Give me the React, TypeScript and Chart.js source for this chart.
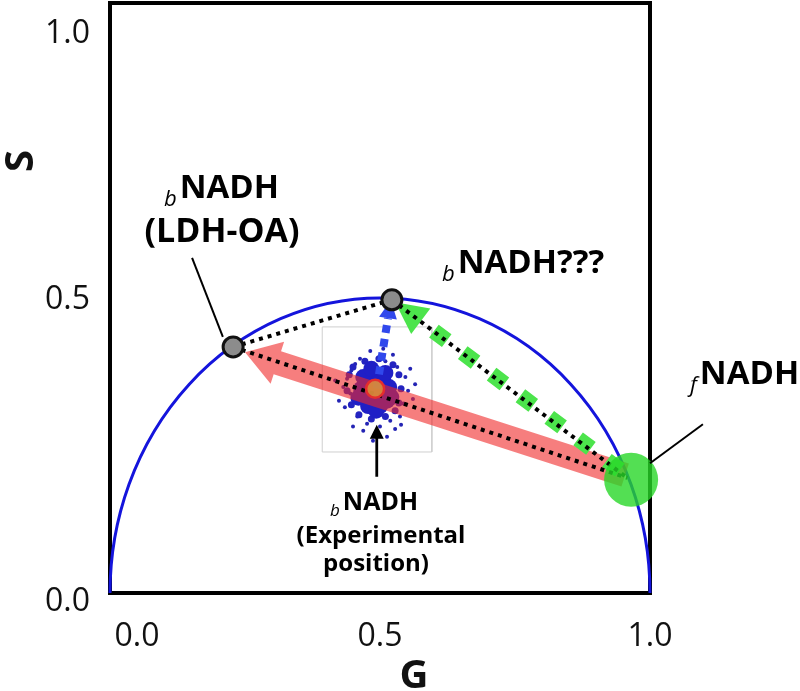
import React, { useEffect, useRef } from "react";
import { Chart, registerables } from "chart.js";

Chart.register(...registerables);

// ---- axis ticks ----
const X_TICKS = [0, 0.5, 1.0];
const Y_TICKS = [0, 0.5, 1.0];

// ---- universal semicircle (center G, S and radius) ----
const UC_CENTER = [0.5, 0];
const UC_RADIUS = 0.5;

// ---- key phasor positions [G, S] ----
const FREE_NADH = [0.965, 0.192];
const BOUND_LDH = [0.228, 0.417];
const BOUND_UNKNOWN = [0.522, 0.497];
const EXPERIMENTAL = [0.491, 0.346];

// ---- arrows (tail -> tip) ----
const RED_ARROW_G = [0.954, 0.25];
const RED_ARROW_S = [0.2, 0.408];
const GREEN_ARROW_G = [0.944, 0.528];
const GREEN_ARROW_S = [0.2085, 0.493];
const BLUE_ARROW_G = [0.494, 0.52];
const BLUE_ARROW_S = [0.347, 0.496];
const EXP_POINTER_G = [0.494, 0.494];
const EXP_POINTER_S = [0.197, 0.285];

// ---- black dotted connecting lines ----
const DOT1_G = [0.228, 0.958];
const DOT1_S = [0.417, 0.195];
const DOT2_G = [0.228, 0.522];
const DOT2_S = [0.417, 0.497];
const DOT3_G = [0.522, 0.958];
const DOT3_S = [0.497, 0.195];

// ---- label pointer lines ----
const LDH_POINTER_G = [0.152, 0.209];
const LDH_POINTER_S = [0.568, 0.434];
const FREE_POINTER_G = [1.0, 1.098];
const FREE_POINTER_S = [0.22, 0.286];

// ---- inset frame ----
const INSET_G = [0.393, 0.596, 0.596, 0.393, 0.393];
const INSET_S = [0.451, 0.451, 0.239, 0.239, 0.451];

// ---- experimental phasor cloud ----
const CLOUD_G = [0.439, 0.445, 0.435, 0.454, 0.463, 0.51, 0.532, 0.547, 0.552, 0.543, 0.537, 0.519, 0.5, 0.476, 0.458, 0.432, 0.556, 0.482, 0.491, 0.469, 0.528, 0.561, 0.424, 0.506, 0.447, 0.524, 0.565, 0.417, 0.513, 0.487, 0.539, 0.45];
const CLOUD_S = [0.363, 0.338, 0.315, 0.388, 0.397, 0.393, 0.383, 0.366, 0.343, 0.321, 0.299, 0.292, 0.282, 0.287, 0.299, 0.349, 0.38, 0.41, 0.27, 0.275, 0.278, 0.329, 0.326, 0.414, 0.377, 0.404, 0.354, 0.36, 0.265, 0.258, 0.285, 0.282];
const EDGE_G = [0.443, 0.45, 0.472, 0.498, 0.524, 0.535, 0.539, 0.535, 0.528, 0.51, 0.484, 0.461, 0.447, 0.439];
const EDGE_S = [0.37, 0.383, 0.393, 0.397, 0.387, 0.37, 0.346, 0.322, 0.309, 0.299, 0.295, 0.302, 0.319, 0.343];
const CORE_G = [0.491, 0.474, 0.506, 0.508, 0.474, 0.491, 0.487, 0.517, 0.465, 0.5, 0.478, 0.513, 0.469, 0.51, 0.493, 0.484, 0.521, 0.46];
const CORE_S = [0.346, 0.36, 0.361, 0.336, 0.334, 0.324, 0.371, 0.349, 0.346, 0.317, 0.317, 0.326, 0.366, 0.373, 0.309, 0.38, 0.332, 0.331];

const pts = (g: number[], s: number[]) => g.map((x, i) => ({ x, y: s[i] }));
const FONT = '"Open Sans", "DejaVu Sans", sans-serif';

function lineDs(g: number[], s: number[], color: string, width: number, dash: number[], order: number) {
  return {
    type: "line",
    data: pts(g, s),
    showLine: true,
    borderColor: color,
    borderWidth: width,
    borderDash: dash,
    borderCapStyle: "butt",
    pointRadius: 0,
    fill: false,
    tension: 0,
    clip: false,
    order,
  };
}

function arrowDs(g: number[], s: number[], arrow: any, order: number) {
  return {
    type: "scatter",
    data: pts(g, s),
    showLine: false,
    pointRadius: 0,
    pointHoverRadius: 0,
    clip: false,
    order,
    arrow,
  };
}

function pointDs(g: number[], s: number[], radius: number, fill: string, border: string, bw: number, order: number) {
  return {
    type: "scatter",
    data: pts(g, s),
    pointRadius: radius,
    pointHoverRadius: radius,
    backgroundColor: fill,
    borderColor: border,
    borderWidth: bw,
    clip: false,
    order,
  };
}

function subLabel(ctx: CanvasRenderingContext2D, sub: string, main: string, x: number, baseline: number, size: number, subSize: number, drop: number) {
  ctx.textAlign = "left";
  ctx.textBaseline = "alphabetic";
  ctx.font = `italic ${subSize}px ${FONT}`;
  const ws = ctx.measureText(sub).width;
  ctx.fillText(sub, x, baseline + drop);
  ctx.font = `bold ${size}px ${FONT}`;
  ctx.fillText(main, x + ws + 3, baseline);
}

const phasorPlugin = {
  id: "phasor",
  beforeDatasetsDraw(chart: any) {
    const { ctx, chartArea: a, scales } = chart;
    const x = scales.x, y = scales.y;
    ctx.save();
    ctx.strokeStyle = "#000";
    ctx.lineWidth = 4;
    ctx.strokeRect(a.left, a.top, a.right - a.left, a.bottom - a.top);
    const cx = x.getPixelForValue(UC_CENTER[0]);
    const cy = y.getPixelForValue(UC_CENTER[1]);
    const rx = x.getPixelForValue(UC_CENTER[0] + UC_RADIUS) - cx;
    const ry = cy - y.getPixelForValue(UC_CENTER[1] + UC_RADIUS);
    ctx.beginPath();
    ctx.ellipse(cx, cy, rx, ry, 0, Math.PI, 2 * Math.PI);
    ctx.strokeStyle = "#1414dc";
    ctx.lineWidth = 3;
    ctx.stroke();
    ctx.restore();
  },
  afterDatasetDraw(chart: any, args: any) {
    const ds: any = chart.data.datasets[args.index];
    const arrow = ds && ds.arrow;
    if (!arrow) return;
    const els = args.meta.data;
    const p0 = els[0], p1 = els[els.length - 1];
    const dx = p1.x - p0.x, dy = p1.y - p0.y;
    const len = Math.hypot(dx, dy);
    const ux = dx / len, uy = dy / len;
    const nx = -uy, ny = ux;
    const bx = p1.x - ux * arrow.headLen, by = p1.y - uy * arrow.headLen;
    const ctx = chart.ctx;
    ctx.save();
    ctx.fillStyle = arrow.color;
    if (arrow.dash) {
      ctx.strokeStyle = arrow.color;
      ctx.lineWidth = arrow.shaftHalf * 2;
      ctx.lineCap = "butt";
      ctx.setLineDash(arrow.dash);
      ctx.beginPath();
      ctx.moveTo(p0.x, p0.y);
      ctx.lineTo(bx, by);
      ctx.stroke();
      ctx.setLineDash([]);
      ctx.beginPath();
      ctx.moveTo(bx + nx * arrow.headHalf, by + ny * arrow.headHalf);
      ctx.lineTo(p1.x, p1.y);
      ctx.lineTo(bx - nx * arrow.headHalf, by - ny * arrow.headHalf);
      ctx.closePath();
      ctx.fill();
    } else {
      const w = arrow.shaftHalf, h = arrow.headHalf;
      ctx.beginPath();
      ctx.moveTo(p0.x + nx * w, p0.y + ny * w);
      ctx.lineTo(bx + nx * w, by + ny * w);
      ctx.lineTo(bx + nx * h, by + ny * h);
      ctx.lineTo(p1.x, p1.y);
      ctx.lineTo(bx - nx * h, by - ny * h);
      ctx.lineTo(bx - nx * w, by - ny * w);
      ctx.lineTo(p0.x - nx * w, p0.y - ny * w);
      ctx.closePath();
      ctx.fill();
    }
    ctx.restore();
  },
  afterDraw(chart: any) {
    const { ctx, scales } = chart;
    const x = scales.x, y = scales.y;
    ctx.save();
    ctx.fillStyle = "#111";
    // tick labels
    ctx.font = `32px ${FONT}`;
    ctx.textBaseline = "alphabetic";
    ctx.textAlign = "right";
    const yOff = [18, 11, 40];
    Y_TICKS.forEach((v, i) => {
      ctx.fillText(v.toFixed(1), 90, y.getPixelForValue(v) + yOff[i]);
    });
    ctx.textAlign = "center";
    const xOff = [27, 0, 0];
    X_TICKS.forEach((v, i) => {
      ctx.fillText(v.toFixed(1), x.getPixelForValue(v) + xOff[i], 646);
    });
    // axis titles
    ctx.font = `bold 40px ${FONT}`;
    ctx.fillText("G", 414, 688);
    ctx.save();
    ctx.translate(33, 161);
    ctx.rotate(-Math.PI / 2);
    ctx.fillText("S", 0, 0);
    ctx.restore();
    // annotations
    ctx.fillStyle = "#000";
    subLabel(ctx, "b", "NADH", 164, 198, 33, 22, 8);
    ctx.textAlign = "center";
    ctx.font = `bold 34px ${FONT}`;
    ctx.fillText("(LDH-OA)", 222, 242);
    subLabel(ctx, "b", "NADH???", 442, 273, 33, 22, 8);
    subLabel(ctx, "f", "NADH", 690, 384, 33, 22, 8);
    subLabel(ctx, "b", "NADH", 330, 510, 25, 17, 6);
    ctx.textAlign = "center";
    ctx.font = `bold 24px ${FONT}`;
    ctx.fillText("(Experimental", 381, 543);
    ctx.fillText("position)", 376, 571);
    ctx.restore();
  },
};

export default function App() {
  const ref = useRef<HTMLCanvasElement | null>(null);
  useEffect(() => {
    if (!ref.current) return;
    const datasets: any[] = [
      lineDs(INSET_G, INSET_S, "#cfcfcf", 1, [], 100),
      pointDs(CLOUD_G, CLOUD_S, 2, "#2424b4", "#2424b4", 0, 92),
      pointDs(EDGE_G, EDGE_S, 3.5, "#2323c0", "#2323c0", 0, 91),
      pointDs(CORE_G, CORE_S, 8, "#1f1fc6", "#1f1fc6", 0, 90),
      arrowDs(RED_ARROW_G, RED_ARROW_S, { color: "rgba(240,40,40,0.6)", shaftHalf: 12, headLen: 34, headHalf: 22 }, 80),
      arrowDs(GREEN_ARROW_G, GREEN_ARROW_S, { color: "rgb(76,228,76)", shaftHalf: 8, headLen: 32, headHalf: 16, dash: [16, 20] }, 70),
      arrowDs(BLUE_ARROW_G, BLUE_ARROW_S, { color: "rgb(48,72,236)", shaftHalf: 4, headLen: 18, headHalf: 9, dash: [8, 6] }, 65),
      lineDs(DOT1_G, DOT1_S, "#000", 4, [4, 5], 60),
      lineDs(DOT2_G, DOT2_S, "#000", 4, [4, 5], 60),
      lineDs(DOT3_G, DOT3_S, "#000", 4, [4, 5], 60),
      pointDs([FREE_NADH[0]], [FREE_NADH[1]], 27, "rgba(40,215,40,0.8)", "rgba(0,0,0,0)", 0, 50),
      pointDs([BOUND_LDH[0], BOUND_UNKNOWN[0]], [BOUND_LDH[1], BOUND_UNKNOWN[1]], 10, "#8c8c8c", "#111", 3, 40),
      pointDs([EXPERIMENTAL[0]], [EXPERIMENTAL[1]], 9, "rgba(216,136,58,0.95)", "#e52d2d", 2.5, 38),
      lineDs(LDH_POINTER_G, LDH_POINTER_S, "#000", 2, [], 30),
      lineDs(FREE_POINTER_G, FREE_POINTER_S, "#000", 2, [], 30),
      arrowDs(EXP_POINTER_G, EXP_POINTER_S, { color: "#000", shaftHalf: 1.4, headLen: 14, headHalf: 7 }, 30),
    ];
    const chart = new Chart(ref.current, {
      type: "scatter",
      data: { datasets },
      options: {
        responsive: false,
        animation: false,
        events: [],
        layout: { autoPadding: false, padding: { left: 110, right: 150, top: 3, bottom: 98 } },
        scales: {
          x: { type: "linear", min: 0, max: 1, display: false },
          y: { type: "linear", min: 0, max: 1, display: false },
        },
        plugins: {
          legend: { display: false },
          tooltip: { enabled: false },
          title: { display: false },
        },
      },
      plugins: [phasorPlugin],
    } as any);
    return () => chart.destroy();
  }, []);
  return (
    <div style={{ position: "absolute", left: 0, top: 0, width: 800, height: 691, background: "#fff" }}>
      <canvas ref={ref} width={800} height={691} style={{ width: 800, height: 691, display: "block" }} />
    </div>
  );
}
